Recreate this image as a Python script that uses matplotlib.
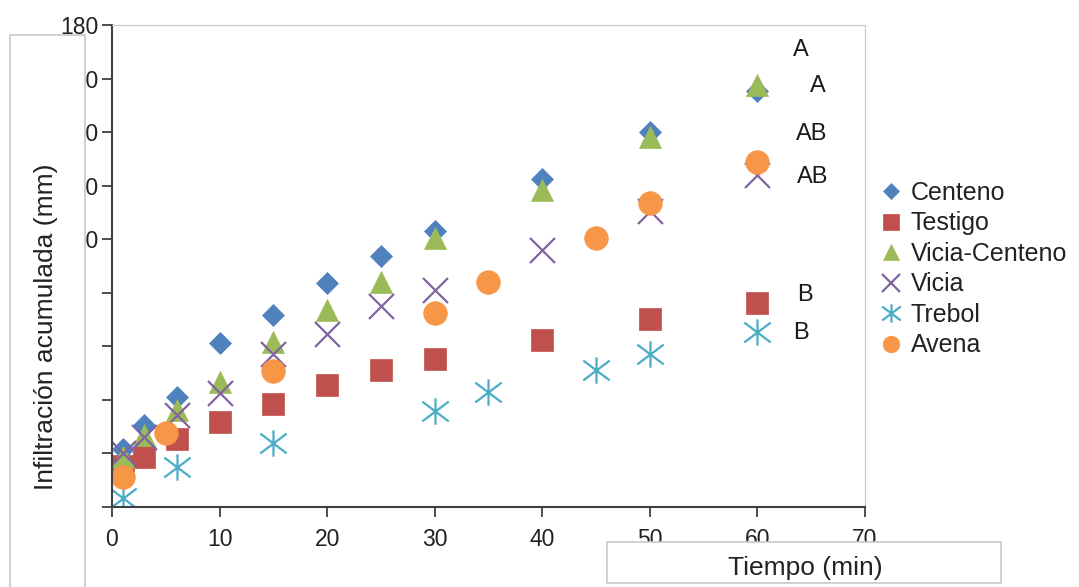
import numpy as np
import matplotlib
matplotlib.use('Agg')
from matplotlib import pyplot as plt
from matplotlib.path import Path
from matplotlib.patches import Rectangle

plt.rcParams['font.family'] = ['Liberation Sans', 'DejaVu Sans']

# Cumulative infiltration (mm) vs time (min) for each cover crop
time_main = [1, 3, 6, 10, 15, 20, 25, 30, 40, 50, 60]
centeno = [21.5, 30.6, 41.2, 61.4, 71.7, 83.5, 93.7, 103.0, 122.4, 140.2, 155.2]
testigo = [15.3, 18.8, 25.3, 31.9, 38.6, 45.6, 51.2, 55.1, 62.4, 70.2, 76.3]
vicia_centeno = [18.8, 26.9, 36.2, 46.8, 61.5, 73.6, 84.1, 100.4, 118.4, 138.3, 157.6]
vicia = [20.1, 26.3, 34.4, 42.5, 57.2, 64.6, 75.1, 81.1, 96.0, 110.4, 124.0]

time_trebol = [1, 6, 15, 30, 35, 45, 50, 60]
trebol = [3.4, 15.1, 23.9, 36.0, 42.9, 51.2, 57.0, 65.5]

time_avena = [1, 5, 15, 30, 35, 45, 50, 60]
avena = [11.3, 27.7, 50.9, 72.3, 84.0, 100.3, 113.5, 128.9]

# significance letters at the end of the curves
letters = ['A', 'A', 'AB', 'AB', 'B', 'B']
letter_x = [64.0, 65.6, 65.0, 65.1, 64.4, 64.0]
letter_y = [170.6, 157.2, 139.3, 123.2, 79.2, 65.0]

# asterisk: vertical bar plus an X
star_verts = [(0, -1), (0, 1), (-1, -0.75), (1, 0.75), (-1, 0.75), (1, -0.75)]
star_codes = [Path.MOVETO, Path.LINETO] * 3
star = Path(star_verts, star_codes)

series = [
	('Centeno', time_main, centeno, 'D', '#4F81BD', 11.5, True),
	('Testigo', time_main, testigo, 's', '#C0504D', 16.0, True),
	('Vicia-Centeno', time_main, vicia_centeno, '^', '#9BBB59', 16.0, True),
	('Vicia', time_main, vicia, 'x', '#8064A2', 18.0, False),
	('Trebol', time_trebol, trebol, star, '#4BACC6', 19.0, False),
	('Avena', time_avena, avena, 'o', '#F79646', 17.0, True),
]

fig = plt.figure(figsize=(10.79, 5.87), dpi=100)
ax = fig.add_axes([112 / 1079, 1 - 507 / 587, 753 / 1079, 482 / 587])

for name, xs, ys, marker, color, size, filled in series:
	if filled:
		ax.plot(xs, ys, linestyle='none', marker=marker, markersize=size,
			markerfacecolor=color, markeredgecolor=color, markeredgewidth=0.5, label=name)
	else:
		ax.plot(xs, ys, linestyle='none', marker=marker, markersize=size,
			markerfacecolor='none', markeredgecolor=color, markeredgewidth=1.6, label=name)

for txt, lx, ly in zip(letters, letter_x, letter_y):
	ax.text(lx, ly, txt, ha='center', va='center', fontsize=17, color='#1a1a1a')

ax.set_xlim(0, 70)
ax.set_ylim(0, 180)
ax.set_xticks(np.arange(0, 71, 10))
ax.set_yticks(np.arange(0, 181, 20))
ax.set_yticklabels(['', '', '', '', '', '100', '120', '140', '160', '180'])

ax.spines['left'].set_color('#404040')
ax.spines['bottom'].set_color('#404040')
ax.spines['left'].set_linewidth(1.5)
ax.spines['bottom'].set_linewidth(1.5)
ax.spines['top'].set_color('#c8c8c8')
ax.spines['right'].set_color('#c8c8c8')
ax.tick_params(axis='both', direction='out', length=7, width=1.3, color='#404040',
	labelsize=16.5, labelcolor='#222222')
ax.tick_params(axis='x', pad=8)
ax.tick_params(axis='y', pad=3)

# white label boxes sitting over the tick labels
fig.patches.append(Rectangle((10 / 1079, -0.05), 75 / 1079, 1.05 - 35 / 587,
	transform=fig.transFigure, facecolor='white', edgecolor='#c8c8c8', linewidth=1.2, zorder=5))
fig.patches.append(Rectangle((607 / 1079, 1 - 583 / 587), 394 / 1079, 41 / 587,
	transform=fig.transFigure, facecolor='white', edgecolor='#c8c8c8', linewidth=1.2, zorder=5))

fig.text(46 / 1079, 1 - 327 / 587, 'Infiltración acumulada (mm)', rotation=90,
	ha='center', va='center', fontsize=19, color='#222222', zorder=6)
fig.text(805 / 1079, 1 - 568 / 587, 'Tiempo (min)', ha='center', va='center',
	fontsize=19, color='#222222', zorder=6)

leg = ax.legend(loc='center left', bbox_to_anchor=(868 / 1079, 1 - 269 / 587),
	bbox_transform=fig.transFigure, frameon=False, fontsize=18, markerscale=0.7,
	handlelength=0.8, handletextpad=0.4, labelspacing=0.26, borderpad=0)
for t in leg.get_texts():
	t.set_color('#222222')

plt.savefig('out.png', dpi=100)
